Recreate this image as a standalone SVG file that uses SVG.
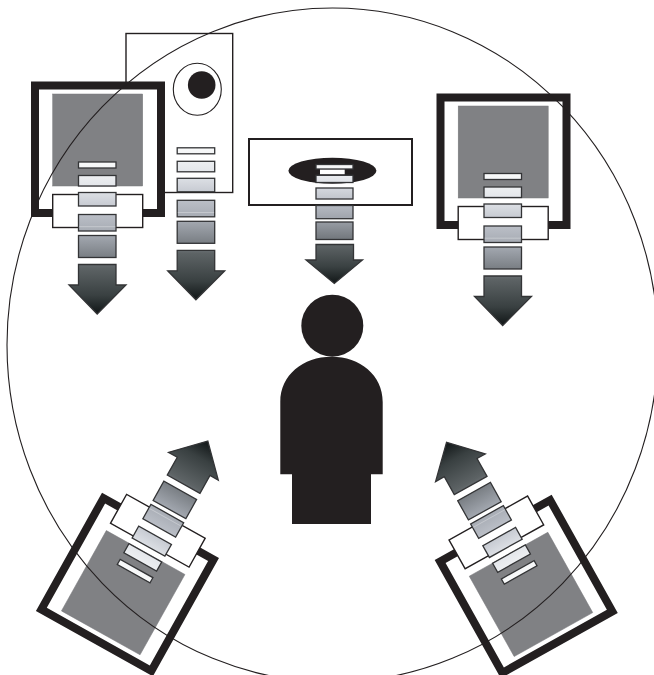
<svg xmlns="http://www.w3.org/2000/svg" xmlns:xlink="http://www.w3.org/1999/xlink" width="654" height="675" viewBox="0 0 654 675">
<style>
.ink{fill:#231f20}
.frame{fill:#fff;stroke:#231f20;stroke-width:8}
.panel{fill:#808184;stroke:#77787b;stroke-width:.5}
.line{fill:#fff;stroke:#231f20;stroke-width:1.4}
.thin{fill:none;stroke:#231f20;stroke-width:1.1}
.bar{fill:url(#flow);stroke:#333436;stroke-width:1.3}
.barM{fill:url(#flowM);stroke:#333436;stroke-width:1.3}
</style>
<defs>
<linearGradient id="flow" gradientUnits="userSpaceOnUse" x1="0" y1="160" x2="0" y2="314">
<stop offset="0" stop-color="#fbfcfc"/><stop offset=".2" stop-color="#dfe2e7"/><stop offset=".33" stop-color="#bfc3cb"/><stop offset=".5" stop-color="#a0a5ad"/><stop offset=".65" stop-color="#74797e"/><stop offset=".7" stop-color="#5d6365"/><stop offset=".88" stop-color="#394041"/><stop offset="1" stop-color="#101516"/>
</linearGradient>
<linearGradient id="flowM" gradientUnits="userSpaceOnUse" x1="0" y1="164" x2="0" y2="284">
<stop offset="0" stop-color="#fbfcfc"/><stop offset=".15" stop-color="#e0e3e8"/><stop offset=".3" stop-color="#bfc3cb"/><stop offset=".45" stop-color="#a0a5ad"/><stop offset=".62" stop-color="#74797e"/><stop offset=".68" stop-color="#5d6365"/><stop offset=".86" stop-color="#394041"/><stop offset="1" stop-color="#101516"/>
</linearGradient>
<g id="cab">
<rect class="frame" x="35" y="85.5" width="126" height="127.5"/>
<rect class="panel" x="52.7" y="94" width="90" height="92"/>
<rect class="line" x="52.7" y="194.5" width="90" height="33"/>
</g>
<g id="arrow">
<rect class="bar" x="78.5" y="162" width="37.5" height="6"/>
<rect class="bar" x="78.5" y="175.5" width="37.5" height="10.5"/>
<rect class="bar" x="78.5" y="192.5" width="37.5" height="13.5"/>
<rect class="bar" x="78.5" y="214.5" width="37.5" height="16.5"/>
<path d="M79 226.7H115.5" fill="none" stroke="#fff" stroke-opacity=".3"/>
<rect class="bar" x="78.5" y="235.5" width="37.5" height="22"/>
<path class="bar" d="M78.5 264.5H116V285H126L97.2 314 69 285H78.5Z"/>
</g>
</defs>
<g id="speaker-box"><rect x="126" y="33.5" width="106.7" height="159" fill="#fff" stroke="#231f20" stroke-width="1.4"/><ellipse class="thin" cx="197.3" cy="89.3" rx="24" ry="26"/><circle class="ink" cx="201.7" cy="85" r="13.8"/></g>
<g id="cabinet-left"><use xlink:href="#cab" href="#cab"/></g>
<g id="cabinet-right"><use xlink:href="#cab" href="#cab" transform="translate(405.5 12)"/></g>
<g id="cabinet-rear-left"><use xlink:href="#cab" href="#cab" transform="translate(123.2 592.7) rotate(209.2) translate(-97.7 -140)"/></g>
<g id="cabinet-rear-right"><use xlink:href="#cab" href="#cab" transform="translate(531 594.4) rotate(150.8) translate(-97.7 -140)"/></g>
<g id="center-box"><rect x="249" y="139" width="163" height="66" fill="#fff" stroke="#231f20" stroke-width="2"/><ellipse class="ink" cx="332.4" cy="170.7" rx="44" ry="13"/></g>
<g id="listener"><circle class="ink" cx="332.3" cy="325.7" r="31"/><path class="ink" d="M280.3 474.3V402C280.3 375 303 356.7 331.5 356.7S382.7 375 382.7 402V474.3H371V524H292V474.3Z"/></g>
<g id="room"><ellipse class="thin" cx="332.5" cy="345" rx="325.5" ry="337"/></g>
<g id="connectors">
<use xlink:href="#arrow" href="#arrow"/>
<use xlink:href="#arrow" href="#arrow" transform="translate(98.7 -14.2)"/>
<use xlink:href="#arrow" href="#arrow" transform="translate(405.5 11.5)"/>
<use xlink:href="#arrow" href="#arrow" transform="translate(122.5 592.7) rotate(209.2) translate(-97.7 -140)"/>
<use xlink:href="#arrow" href="#arrow" transform="translate(531 594.4) rotate(150.8) translate(-97.7 -140)"/>
<rect class="barM" x="316" y="164.5" width="37" height="4.5"/>
<rect x="320" y="169.7" width="24.7" height="4.6" fill="#fff"/>
<rect class="barM" x="316" y="175.3" width="37" height="7.2"/>
<rect class="barM" x="316" y="188" width="37" height="11"/>
<rect class="barM" x="316" y="205.5" width="37" height="13.2"/>
<rect class="barM" x="316" y="222" width="37" height="17.5"/>
<path class="barM" d="M316 244.5H353.5V260H362.5L334.3 283.5 306 260H316Z"/>
</g>
</svg>
